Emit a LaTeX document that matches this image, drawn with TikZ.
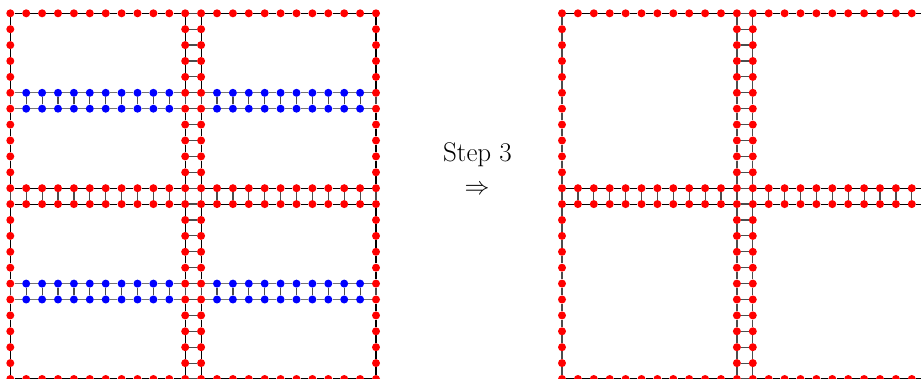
\documentclass[tikz,border=0pt]{standalone}
\usetikzlibrary{backgrounds}
\begin{document}
\begin{tikzpicture}[x=1pt,y=-1pt,
  rdot/.style={circle,fill=red,draw=none,inner sep=0pt,minimum size=8pt},
  bdot/.style={circle,fill=blue,draw=none,inner sep=0pt,minimum size=8pt},
  mainedge/.style={draw=black,line width=1.1pt},
  grayedge/.style={draw=black!55,line width=1.3pt},
  rungedge/.style={draw=black!70,line width=1.2pt}]
\useasboundingbox (0,0) rectangle (921,379);
\def\sp{15.9}
\def\inner{1,2,3,4,5,6,7,8,9,10,13,14,15,16,17,18,19,20,21,22}
% ---------- left grid ----------
\foreach \j in {0,...,23}
  \foreach \i in {0,11,12,23}
    \node[rdot] (L-\i-\j) at (10.3+\i*\sp,13.3+\j*\sp) {};
\foreach \j in {0,11,12,23}
  \foreach \i in \inner
    \node[rdot] (L-\i-\j) at (10.3+\i*\sp,13.3+\j*\sp) {};
\foreach \j in {5,6,17,18}
  \foreach \i in \inner
    \node[bdot] (L-\i-\j) at (10.3+\i*\sp,13.3+\j*\sp) {};
% ---------- right grid ----------
\foreach \j in {0,...,23}
  \foreach \i in {0,11,12,23}
    \node[rdot] (R-\i-\j) at (562+\i*\sp,13.3+\j*\sp) {};
\foreach \j in {0,11,12,23}
  \foreach \i in \inner
    \node[rdot] (R-\i-\j) at (562+\i*\sp,13.3+\j*\sp) {};
% ---------- edges ----------
\begin{scope}[on background layer]
  % left: red row lines
  \foreach \j in {0,11,12,23}
    \foreach \i in {0,...,22}{
      \pgfmathtruncatemacro\nx{\i+1}
      \draw[mainedge] (L-\i-\j) -- (L-\nx-\j);}
  % left: blue row lines
  \foreach \j in {5,6,17,18}
    \foreach \i in {0,...,22}{
      \pgfmathtruncatemacro\nx{\i+1}
      \draw[grayedge] (L-\i-\j) -- (L-\nx-\j);}
  % left: column lines
  \foreach \i in {0,11,12,23}
    \foreach \j in {0,...,22}{
      \pgfmathtruncatemacro\nx{\j+1}
      \draw[mainedge] (L-\i-\j) -- (L-\i-\nx);}
  % left: rungs
  \foreach \j in {0,...,23}
    \draw[rungedge] (L-11-\j) -- (L-12-\j);
  \foreach \a/\b in {5/6,11/12,17/18}
    \foreach \i in {0,...,23}
      \draw[rungedge] (L-\i-\a) -- (L-\i-\b);
  % right: row lines
  \foreach \j in {0,11,12,23}
    \foreach \i in {0,...,22}{
      \pgfmathtruncatemacro\nx{\i+1}
      \draw[mainedge] (R-\i-\j) -- (R-\nx-\j);}
  % right: column lines
  \foreach \i in {0,11,12,23}
    \foreach \j in {0,...,22}{
      \pgfmathtruncatemacro\nx{\j+1}
      \draw[rungedge] (R-\i-\j) -- (R-\i-\nx);}
  % right: rungs
  \foreach \j in {0,...,23}
    \draw[rungedge] (R-11-\j) -- (R-12-\j);
  \foreach \i in {0,...,23}
    \draw[rungedge] (R-\i-11) -- (R-\i-12);
\end{scope}
% ---------- label ----------
\node[anchor=base,inner sep=0pt,font=\fontsize{27}{30}\selectfont] (step) at (477.5,162) {Step 3};
\node[inner sep=0pt,font=\fontsize{27}{30}\selectfont] (arr) at (477,190) {$\Rightarrow$};
\end{tikzpicture}
\end{document}
